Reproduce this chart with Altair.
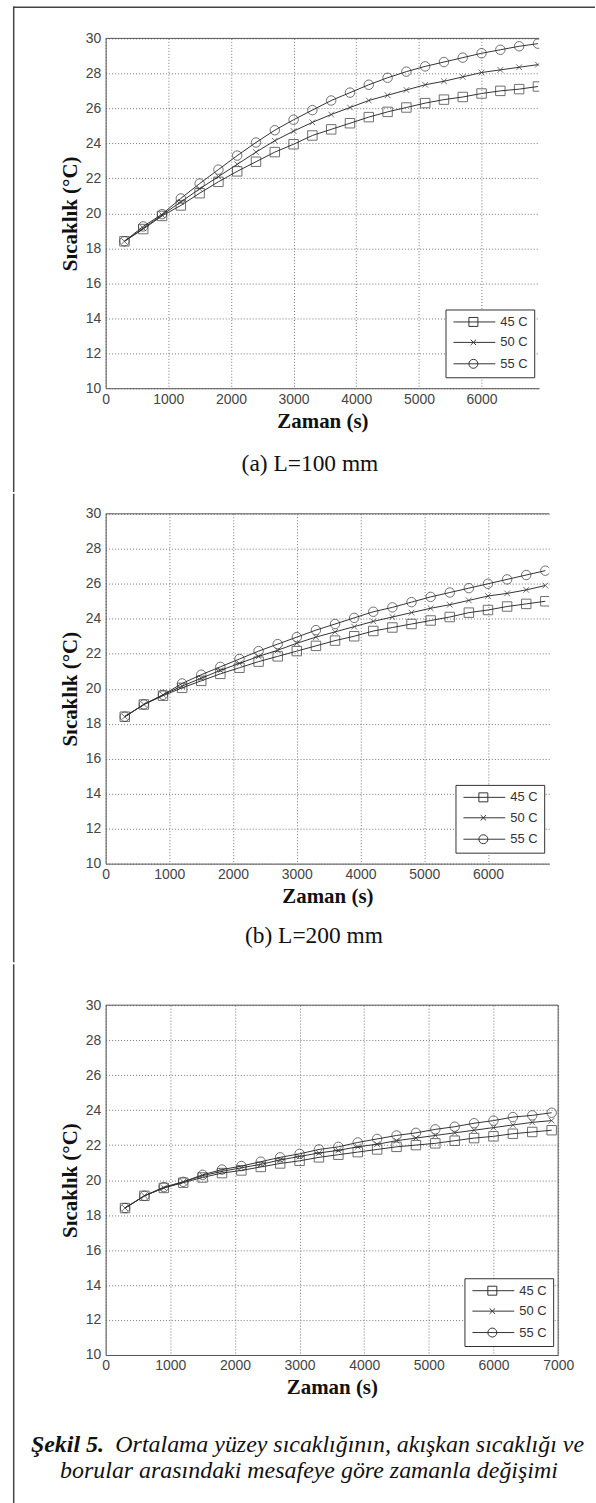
import altair as alt
import pandas as pd

# ---------------- data ----------------
time_s = [300, 600, 900, 1200, 1500, 1800, 2100, 2400, 2700, 3000, 3300, 3600,
          3900, 4200, 4500, 4800, 5100, 5400, 5700, 6000, 6300, 6600, 6900]
series = ["45 C", "50 C", "55 C"]

# (a) L=100 mm
a_45 = [18.4, 19.1, 19.85, 20.45, 21.15, 21.8, 22.4, 22.95, 23.5, 23.95, 24.45, 24.8,
        25.15, 25.5, 25.8, 26.05, 26.3, 26.5, 26.65, 26.85, 27.0, 27.1, 27.25]
a_50 = [18.4, 19.15, 19.9, 20.65, 21.4, 22.1, 22.8, 23.5, 24.15, 24.7, 25.2, 25.65,
        26.05, 26.45, 26.75, 27.05, 27.35, 27.55, 27.8, 28.05, 28.2, 28.35, 28.5]
a_55 = [18.4, 19.25, 19.95, 20.85, 21.7, 22.5, 23.3, 24.05, 24.75, 25.35, 25.9, 26.45,
        26.9, 27.35, 27.75, 28.1, 28.4, 28.65, 28.9, 29.15, 29.35, 29.55, 29.7]

# (b) L=200 mm
b_45 = [18.4, 19.1, 19.6, 20.05, 20.45, 20.85, 21.2, 21.55, 21.85, 22.15, 22.45, 22.75,
        23.0, 23.3, 23.5, 23.7, 23.9, 24.1, 24.35, 24.5, 24.7, 24.85, 25.0]
b_50 = [18.4, 19.1, 19.65, 20.15, 20.6, 21.05, 21.45, 21.85, 22.2, 22.6, 22.95, 23.25,
        23.55, 23.85, 24.1, 24.35, 24.6, 24.8, 25.05, 25.3, 25.45, 25.65, 25.9]
b_55 = [18.4, 19.1, 19.65, 20.3, 20.8, 21.25, 21.7, 22.15, 22.55, 22.95, 23.35, 23.7,
        24.05, 24.4, 24.65, 24.95, 25.25, 25.5, 25.75, 26.0, 26.25, 26.5, 26.75]

# third panel
c_45 = [18.4, 19.1, 19.55, 19.85, 20.15, 20.4, 20.55, 20.75, 20.95, 21.1, 21.3, 21.45,
        21.6, 21.75, 21.9, 22.0, 22.1, 22.25, 22.4, 22.5, 22.65, 22.75, 22.85]
c_50 = [18.4, 19.1, 19.55, 19.9, 20.25, 20.5, 20.7, 20.9, 21.15, 21.35, 21.55, 21.7,
        21.9, 22.05, 22.25, 22.4, 22.55, 22.7, 22.85, 23.0, 23.15, 23.3, 23.4]
c_55 = [18.4, 19.1, 19.6, 19.9, 20.3, 20.6, 20.8, 21.05, 21.3, 21.5, 21.75, 21.9,
        22.15, 22.35, 22.55, 22.7, 22.9, 23.05, 23.25, 23.4, 23.6, 23.7, 23.85]

x_ticks = [0, 1000, 2000, 3000, 4000, 5000, 6000, 7000]
y_ticks = [10, 12, 14, 16, 18, 20, 22, 24, 26, 28, 30]

panel_titles = ["(a) L=100 mm", "(b) L=200 mm"]
caption_bold = "Şekil 5."
caption_line1 = "Ortalama yüzey sıcaklığının, akışkan sıcaklığı ve"
caption_line2 = "borular arasındaki mesafeye göre zamanla değişimi"

# ---------------- style ----------------
SANS = "Liberation Sans"
SERIF = "Liberation Serif"
INK = "#333333"
FRAME = "#555555"
BORDER = "#444444"
H = 351
FIG_W = 596
OX = 105          # common left edge of the three plot areas

marker_shapes = ["square", "M-0.6,-0.6L0.6,0.6M-0.6,0.6L0.6,-0.6", "circle"]
legend_shapes = [
    "M-1,0H8.33M2.44,-1H4.44V1H2.44Z",
    "M-1,0H8.33M2.84,-0.6L4.04,0.6M2.84,0.6L4.04,-0.6",
    "M-1,0H8.33M4.44,0A1,1,0,1,1,2.44,0A1,1,0,1,1,4.44,0",
]
one = pd.DataFrame({"k": [0]})


def box(x1, x2, y1, y2, color, opacity=1.0):
    return alt.Chart(one).mark_rect(color=color, opacity=opacity).encode(
        x=alt.value(x1), x2=alt.value(x2), y=alt.value(y1), y2=alt.value(y2))


def label(text, xv, yv, size=23.5, style="normal", weight="normal", align="center"):
    return alt.Chart(one).mark_text(
        font=SERIF, fontSize=size, fontStyle=style, fontWeight=weight,
        align=align, baseline="middle", color="#111",
    ).encode(x=alt.value(xv), y=alt.value(yv), text=alt.value(text))


def panel(v45, v50, v55, xmax, w, oy, cell_top, cell_bottom,
          legend_y, full_box, extras):
    n = len(time_s)
    df = pd.DataFrame({
        "t": time_s * 3,
        "T": v45 + v50 + v55,
        "s": [series[0]] * n + [series[1]] * n + [series[2]] * n,
    })
    xaxis = alt.Axis(
        values=x_ticks, tickCount=50, title="Zaman (s)", grid=True, format="d",
        gridOpacity={"condition": {"test": f"datum.value > {xmax}", "value": 0}, "value": 1},
        labelPadding=4, titlePadding=4,
    )
    yaxis = alt.Axis(values=y_ticks, tickCount=50, title="Sıcaklık (°C)", grid=True,
                     format="d", labelPadding=5, titlePadding=5)
    x = alt.X("t:Q", scale=alt.Scale(domain=[0, xmax], nice=False, zero=False), axis=xaxis)
    y = alt.Y("T:Q", scale=alt.Scale(domain=[10, 30], nice=False, zero=False), axis=yaxis)
    base = alt.Chart(df)
    lines = base.mark_line(color=INK, strokeWidth=1, clip=True).encode(x=x, y=y, detail="s:N")
    pts = base.mark_point(filled=False, color=INK, strokeWidth=1, size=90, clip=True).encode(
        x="t:Q", y="T:Q",
        shape=alt.Shape("s:N", scale=alt.Scale(domain=series, range=marker_shapes), legend=None),
    )
    leg = base.mark_point(opacity=0, color=INK, filled=False).encode(
        x="t:Q", y="T:Q",
        shape=alt.Shape(
            "s:N", scale=alt.Scale(domain=series, range=legend_shapes),
            legend=alt.Legend(
                title=None, orient="none", legendX=w - 94, legendY=legend_y,
                symbolSize=81, symbolStrokeColor=INK, symbolFillColor="transparent",
                symbolOpacity=1, symbolStrokeWidth=1, labelOffset=36,
                labelFont=SANS, labelFontSize=13, labelColor="#333",
                strokeColor=INK, fillColor="white", padding=6, rowPadding=6.5,
                cornerRadius=0,
            ),
        ),
    )
    layers = [
        # invisible cell that fixes this panel's footprint in the figure
        box(-OX, FIG_W - OX, cell_top - oy, cell_bottom - oy, "white", 0.0),
        lines, pts, leg,
        alt.Chart(one).mark_rule(color=FRAME, strokeWidth=1).encode(
            x=alt.value(0), x2=alt.value(w), y=alt.value(0)),
        # left border of the figure frame
        box(12 - OX, 13.5 - OX, max(cell_top, 3) - oy, cell_bottom - oy, BORDER),
    ]
    if full_box:
        layers.append(alt.Chart(one).mark_rule(color=FRAME, strokeWidth=1).encode(
            x=alt.value(w), y=alt.value(0), y2=alt.value(H)))
    layers += extras
    return alt.layer(*layers).resolve_scale(shape="independent").properties(width=w, height=H)


# panel 1: plot top 35, cell 0..490
p1 = panel(a_45, a_50, a_55, 6920, 435, 35, 0, 490, 272, False,
           [box(12 - OX, FIG_W - OX, 3 - 35, 4.5 - 35, BORDER),
            label(panel_titles[0], 310 - OX, 462 - 35)])
# panel 2: plot top 510, cell 490..960
p2 = panel(b_45, b_50, b_55, 6960, 445, 510, 490, 960, 272, False,
           [label(panel_titles[1], 314 - OX, 934 - 510)])
# panel 3: plot top 1001, cell 960..1503
p3 = panel(c_45, c_50, c_55, 7000, 454, 1001, 960, 1503, 274, True,
           [label(caption_bold, 30 - OX, 1442 - 1001, size=24, style="italic",
                  weight="bold", align="left"),
            label(caption_line1, 585 - OX, 1442 - 1001, size=24, style="italic",
                  align="right"),
            label(caption_line2, 309 - OX, 1468 - 1001, size=24, style="italic")])

chart = alt.vconcat(p1, p2, p3, spacing=0).properties(
    padding={"left": 0, "top": 0, "right": 0, "bottom": 0},
    background="white",
).configure_view(stroke="transparent").configure_axis(
    labelFont=SANS, labelFontSize=14, labelColor="#444", labelFlush=False,
    labelOverlap=False,
    titleFont=SERIF, titleFontSize=21, titleFontWeight="bold", titleColor="#111",
    domainColor=FRAME, domainWidth=1, ticks=False,
    gridColor="#777", gridDash=[1, 2], gridWidth=1,
)

chart.save("out.html", embed_options={"renderer": "svg", "actions": False})
